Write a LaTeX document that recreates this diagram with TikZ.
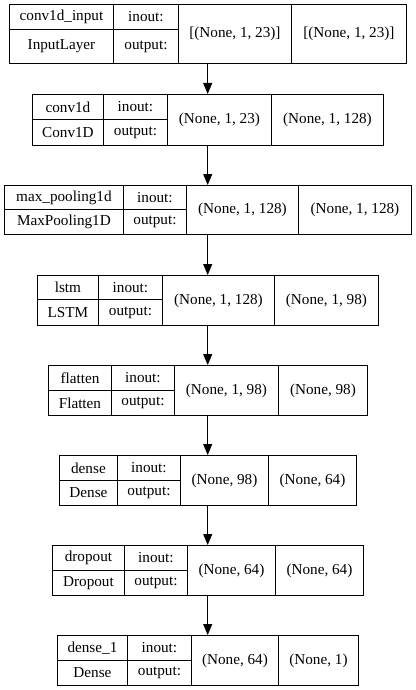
\documentclass[tikz,border=0pt]{standalone}
\usepackage{fontspec}
\setmainfont{Liberation Serif}
\usetikzlibrary{arrows.meta}

\begin{document}
\begin{tikzpicture}[x=1pt, y=-1pt,
	cell/.style={draw, line width=0.9pt, inner sep=0pt, anchor=north west, font=\fontsize{15.2}{17}\selectfont},
	layerbox/.style={inner sep=0pt, anchor=north west},
	arr/.style={-{Triangle[width=9pt,length=11pt]}, line width=0.9pt}]
	\useasboundingbox (0,0) rectangle (415,690);
	\foreach \n/\nm/\cl/\t/\m/\b/\l/\p/\q/\s/\r/\i/\o in {
		in/conv1d\_input/InputLayer/4/29/63/9/113/178/291/406/{[(None, 1, 23)]}/{[(None, 1, 23)]},
		conv/conv1d/Conv1D/94/119/145/32/103/167/271/383/{(None, 1, 23)}/{(None, 1, 128)},
		pool/max\_pooling1d/MaxPooling1D/185/209/234/4/123/186/298/411/{(None, 1, 128)}/{(None, 1, 128)},
		lstm/lstm/LSTM/275/299/325/37/98/162/274/378/{(None, 1, 128)}/{(None, 1, 98)},
		flat/flatten/Flatten/365/390/415/48/111/174/278/367/{(None, 1, 98)}/{(None, 98)},
		dense/dense/Dense/455/480/505/59/117/180/268/356/{(None, 98)}/{(None, 64)},
		drop/dropout/Dropout/545/570/595/52/124/187/275/363/{(None, 64)}/{(None, 64)},
		out/dense\_1/Dense/635/660/685/57/127/191/278/358/{(None, 64)}/{(None, 1)}}{
		\node[layerbox, minimum width={\r-\l}, minimum height={\b-\t}] (\n) at (\l,\t) {};
		\node[cell, minimum width={\p-\l}, minimum height={\m-\t}] (\n-name) at (\l,\t) {\nm};
		\node[cell, minimum width={\p-\l}, minimum height={\b-\m}] (\n-class) at (\l,\m) {\cl};
		\node[cell, minimum width={\q-\p}, minimum height={\m-\t}] (\n-inlab) at (\p,\t) {inout:};
		\node[cell, minimum width={\q-\p}, minimum height={\b-\m}] (\n-outlab) at (\p,\m) {output:};
		\node[cell, minimum width={\s-\q}, minimum height={\b-\t}] (\n-inshape) at (\q,\t) {\i};
		\node[cell, minimum width={\r-\s}, minimum height={\b-\t}] (\n-outshape) at (\s,\t) {\o};
	}
	\foreach \a/\b in {in/conv, conv/pool, pool/lstm, lstm/flat, flat/dense, dense/drop, drop/out}
		\draw[arr] (\a.south) -- (\b.north);
\end{tikzpicture}
\end{document}
